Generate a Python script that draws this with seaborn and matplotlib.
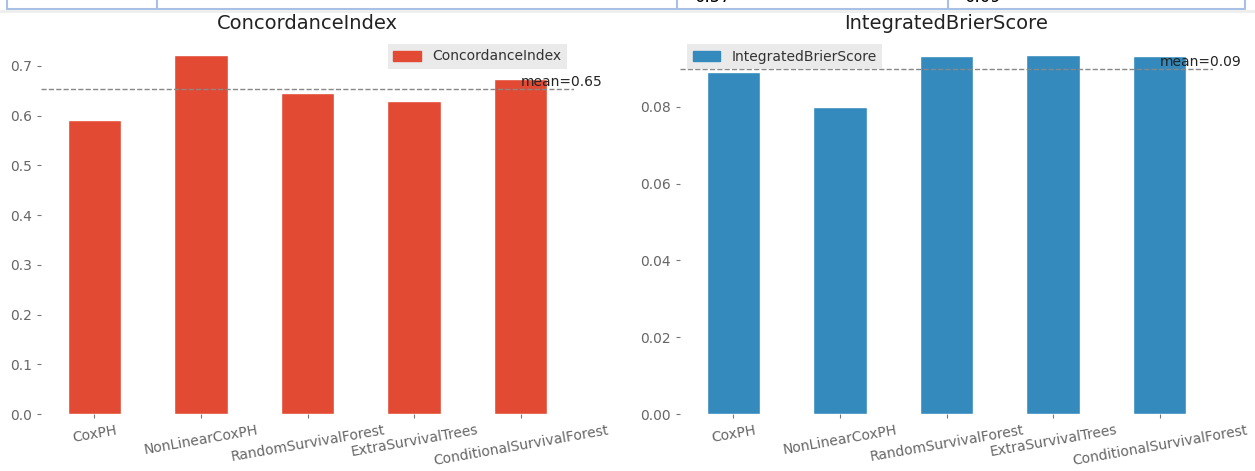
import numpy as np
import matplotlib
matplotlib.use('Agg')
import matplotlib.pyplot as plt
import seaborn as sns
from matplotlib.patches import Patch
from matplotlib.lines import Line2D

# values
models = ['CoxPH', 'NonLinearCoxPH', 'RandomSurvivalForest',
          'ExtraSurvivalTrees', 'ConditionalSurvivalForest']
concordance = [0.592, 0.722, 0.646, 0.630, 0.674]
brier = [0.089, 0.080, 0.0932, 0.0935, 0.0932]
metric_names = ['ConcordanceIndex', 'IntegratedBrierScore']
bar_colors = ['#E24A33', '#348ABD']
table_values = ['0.57', '0.09']

sns.set_theme(style='white')
plt.rcParams['font.family'] = ['DejaVu Sans']

fig = plt.figure(figsize=(12.55, 4.71), dpi=100)
ax1 = fig.add_axes([41 / 1255, 1 - 414 / 471, 533 / 1255, 377 / 471])
ax2 = fig.add_axes([680 / 1255, 1 - 414 / 471, 533 / 1255, 377 / 471])

panels = [(ax1, concordance, 'upper right'), (ax2, brier, 'upper left')]
for i, (ax, vals, loc) in enumerate(panels):
    sns.barplot(x=models, y=vals, color=bar_colors[i], saturation=1,
                width=0.5, ax=ax)
    ax.set_ylim(0, max(vals) * 1.05)
    ax.set_title(metric_names[i], fontsize=14, color='#222222')
    # mean line with label at the last bar
    m = np.mean(vals)
    ax.axhline(m, color='#888888', linestyle='--', linewidth=1)
    ax.text(len(models) - 1, m, f'mean={m:.2f}', ha='left', va='bottom',
            fontsize=10, color='#222222', clip_on=False)
    for s in ax.spines.values():
        s.set_visible(False)
    ax.tick_params(axis='both', colors='#777777', labelcolor='#666666',
                   labelsize=10, length=3, width=0.8, left=True, bottom=True)
    ax.tick_params(axis='x', labelrotation=10)
    leg = ax.legend(handles=[Patch(color=bar_colors[i], label=metric_names[i])],
                    loc=loc, fontsize=10, frameon=True, fancybox=False)
    leg.get_frame().set_facecolor('#E5E5E5')
    leg.get_frame().set_edgecolor('none')
    for t in leg.get_texts():
        t.set_color('#333333')

# cut-off table row above the charts (only its bottom edge is in view)
line_col = '#A9C0E6'
fig.add_artist(Line2D([7 / 1255, 1245 / 1255], [1 - 9 / 471, 1 - 9 / 471],
                      color=line_col, linewidth=1.5))
fig.add_artist(Line2D([0, 1], [1 - 11 / 471, 1 - 11 / 471],
                      color='#EEEEEE', linewidth=2))
for xp in [7, 157, 677, 948, 1245]:
    fig.add_artist(Line2D([xp / 1255, xp / 1255], [1 - 9 / 471, 1.0],
                          color=line_col, linewidth=1.5))
for xp, txt in zip([695, 965], table_values):
    fig.text(xp / 1255, 1 - 2.5 / 471, txt, fontsize=12, color='black',
             ha='left', va='baseline')

fig.savefig('out.png', dpi=100)
